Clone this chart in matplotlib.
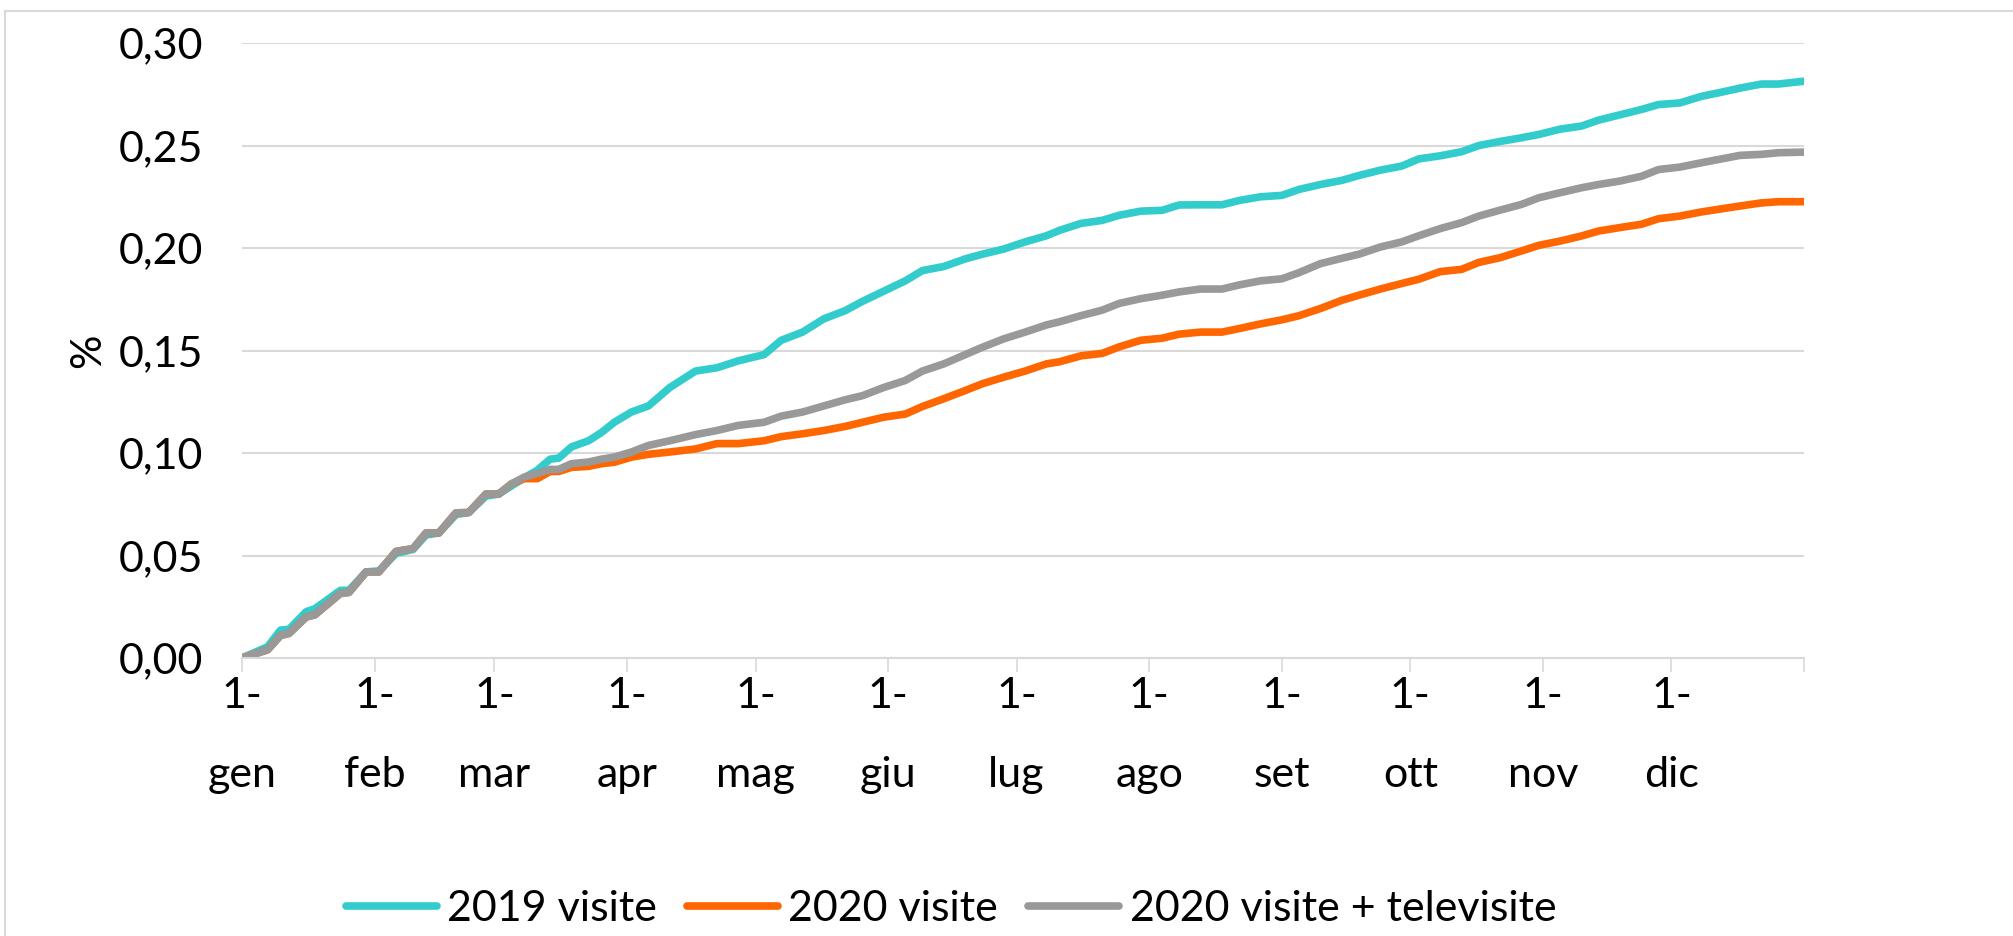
import matplotlib.pyplot as plt
from matplotlib.lines import Line2D
from matplotlib.ticker import FuncFormatter

plt.rcParams['font.family'] = ['Lato', 'DejaVu Sans']

# giorni dall'inizio dell'anno
days = [0, 6, 9, 11, 15, 17, 23, 25, 29, 32, 36, 40, 43, 46, 50, 53, 57, 60, 63, 66,
        69, 72, 74, 77, 81, 84, 87, 91, 95, 100, 106, 111, 116, 122, 126, 131, 136, 141,
        145, 150, 155, 159, 164, 169, 173, 178, 183, 188, 191, 196, 201, 205, 210, 215,
        219, 224, 229, 233, 238, 243, 247, 252, 257, 261, 266, 271, 275, 280, 285, 289,
        294, 299, 303, 308, 313, 317, 322, 327, 331, 336, 341, 345, 350, 355, 359, 365]

visite_2019 = [0, 0.0055, 0.0136, 0.014, 0.0226, 0.024, 0.033, 0.033, 0.042, 0.0425,
               0.051, 0.053, 0.060, 0.061, 0.070, 0.071, 0.079, 0.080, 0.084, 0.088,
               0.0916, 0.097, 0.0975, 0.103, 0.106, 0.110, 0.115, 0.120, 0.123, 0.132,
               0.140, 0.1416, 0.145, 0.148, 0.155, 0.159, 0.1655, 0.1695, 0.174, 0.179,
               0.184, 0.189, 0.191, 0.1947, 0.197, 0.1995, 0.203, 0.206, 0.2086, 0.212,
               0.2135, 0.216, 0.218, 0.2184, 0.221, 0.2211, 0.2211, 0.2232, 0.225, 0.2257,
               0.2286, 0.231, 0.233, 0.2354, 0.238, 0.240, 0.2435, 0.245, 0.247, 0.250,
               0.252, 0.2538, 0.2554, 0.258, 0.2595, 0.2624, 0.265, 0.2676, 0.270, 0.2708,
               0.274, 0.2757, 0.278, 0.280, 0.280, 0.2814]

visite_2020 = [0, 0.004, 0.011, 0.012, 0.020, 0.021, 0.0315, 0.032, 0.042, 0.042,
               0.052, 0.0534, 0.061, 0.061, 0.0708, 0.071, 0.080, 0.080, 0.085, 0.0875,
               0.0875, 0.091, 0.091, 0.093, 0.0935, 0.0948, 0.0955, 0.098, 0.0994, 0.1005,
               0.102, 0.1046, 0.1046, 0.106, 0.108, 0.1094, 0.111, 0.113, 0.115, 0.1175,
               0.119, 0.1227, 0.1265, 0.1305, 0.1338, 0.137, 0.140, 0.1435, 0.1445, 0.1474,
               0.1486, 0.1518, 0.155, 0.156, 0.158, 0.159, 0.159, 0.1607, 0.163, 0.165,
               0.167, 0.1705, 0.1745, 0.177, 0.180, 0.1827, 0.1848, 0.1885, 0.1896, 0.193,
               0.1953, 0.1986, 0.2013, 0.2034, 0.2059, 0.2083, 0.210, 0.2116, 0.2143, 0.2156,
               0.2176, 0.2189, 0.2205, 0.222, 0.2226, 0.2226]

visite_tele_2020 = [0, 0.004, 0.011, 0.012, 0.020, 0.021, 0.0315, 0.032, 0.042, 0.042,
                    0.052, 0.0534, 0.061, 0.061, 0.0708, 0.071, 0.080, 0.080, 0.085, 0.0883,
                    0.090, 0.092, 0.092, 0.0948, 0.0956, 0.097, 0.098, 0.1005, 0.1037, 0.106,
                    0.109, 0.111, 0.1135, 0.115, 0.118, 0.120, 0.123, 0.126, 0.128, 0.132,
                    0.1354, 0.140, 0.1435, 0.148, 0.1516, 0.1557, 0.159, 0.1625, 0.164, 0.167,
                    0.1697, 0.173, 0.1753, 0.177, 0.1786, 0.180, 0.180, 0.182, 0.184, 0.185,
                    0.188, 0.1924, 0.195, 0.197, 0.2005, 0.203, 0.206, 0.2095, 0.2124, 0.2156,
                    0.2185, 0.2213, 0.2245, 0.227, 0.2294, 0.231, 0.2327, 0.235, 0.2383, 0.2395,
                    0.2416, 0.2432, 0.2452, 0.2457, 0.2465, 0.2468]

month_starts = [0, 31, 59, 90, 120, 151, 181, 212, 243, 273, 304, 334, 365]
month_labels = ['1-\ngen', '1-\nfeb', '1-\nmar', '1-\napr', '1-\nmag', '1-\ngiu',
                '1-\nlug', '1-\nago', '1-\nset', '1-\nott', '1-\nnov', '1-\ndic', '']

grid_col = '#D9D9D9'
fs = 31

fig = plt.figure(figsize=(20.13, 9.36), dpi=100)
ax = fig.add_axes([0.1202, 0.297, 0.776, 0.657])

ax.plot(days, visite_2019, color='#33CCCC', lw=5.5, solid_capstyle='round', label='2019 visite')
ax.plot(days, visite_2020, color='#FF6600', lw=5.5, solid_capstyle='round', label='2020 visite')
ax.plot(days, visite_tele_2020, color='#999999', lw=5.5, solid_capstyle='round',
        label='2020 visite + televisite')

ax.set_xlim(0, 365)
ax.set_ylim(0, 0.30)
ax.set_yticks([0, 0.05, 0.10, 0.15, 0.20, 0.25, 0.30])
ax.yaxis.set_major_formatter(FuncFormatter(lambda v, p: f'{v:.2f}'.replace('.', ',')))
ax.set_xticks(month_starts)
ax.set_xticklabels(month_labels, linespacing=2.3)

ax.grid(axis='y', color=grid_col, lw=1.5)
ax.set_axisbelow(True)
for s in ['top', 'right', 'left']:
    ax.spines[s].set_visible(False)
ax.spines['bottom'].set_color(grid_col)
ax.spines['bottom'].set_linewidth(1.5)

ax.tick_params(axis='y', length=0, pad=28, labelsize=fs)
ax.tick_params(axis='x', length=10, width=1.2, color=grid_col, pad=4, labelsize=fs)

ax.set_ylabel('%', fontsize=fs, labelpad=8)

fig.legend(loc='center', bbox_to_anchor=(0.4725, 0.029), ncol=3, frameon=False,
           fontsize=fs, handlelength=2.1, handletextpad=0.25, columnspacing=0.7)

# cornice esterna
fig.add_artist(Line2D([0.0025, 0.0025], [0, 0.988], color=grid_col, lw=1.5))
fig.add_artist(Line2D([0.0025, 1], [0.988, 0.988], color=grid_col, lw=1.5))

fig.savefig('out.png', dpi=100)
